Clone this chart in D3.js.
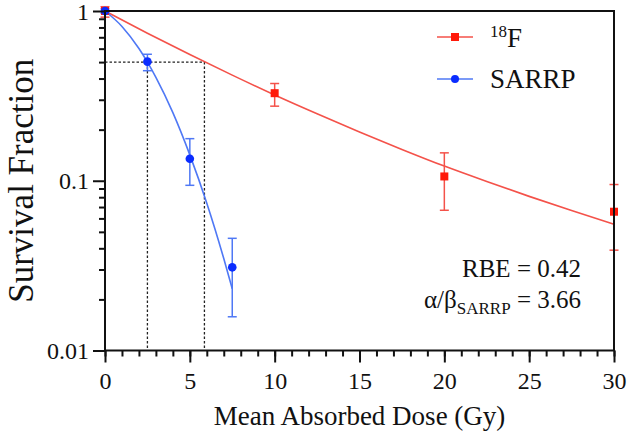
<!DOCTYPE html>
<html><head><meta charset="utf-8">
<script src="https://cdn.jsdelivr.net/npm/d3@7"></script>
<style>
html,body{margin:0;padding:0;background:#fff;}
text{font-family:"Liberation Serif","Times New Roman","DejaVu Serif",serif;fill:#111;}
</style></head>
<body><svg id="c" width="629" height="434"></svg>
<script>
// ---- data ----
const f18Dose = [0, 10, 20, 30];
const f18Surv = [1, 0.328, 0.106, 0.0657];
const f18Lo   = [0.92, 0.275, 0.067, 0.039];
const f18Hi   = [1.06, 0.374, 0.146, 0.095];

const sarrpDose = [0, 2.5, 5, 7.5];
const sarrpSurv = [1, 0.503, 0.1347, 0.0309];
const sarrpLo   = [0.97, 0.445, 0.094, 0.0158];
const sarrpHi   = [1.03, 0.556, 0.177, 0.0458];

// fitted curves
const f18FitDose = [0, 2.5, 5, 7.5, 10, 12.5, 15, 17.5, 20, 22.5, 25, 27.5, 30];
const f18FitSurv = [1, 0.740, 0.554, 0.419, 0.32, 0.248, 0.194, 0.153, 0.122, 0.099, 0.0809, 0.0668, 0.0555];
const sarrpFitDose = [0, 1, 2, 2.5, 3, 4, 5, 6, 7, 7.5];
const sarrpFitSurv = [1, 0.811, 0.601, 0.5, 0.407, 0.252, 0.142, 0.0737, 0.0348, 0.0231];

const halfSurv = 0.5;
const d50Sarrp = 2.5;
const d50F18 = 5.86;

const xMajor = [0, 5, 10, 15, 20, 25, 30];
const xMinor = d3.range(0, 31, 1);
const yMajor = [1, 0.1, 0.01];
const yMajorLabels = ["1", "0.1", "0.01"];
const yMinor = [0.02,0.03,0.04,0.05,0.06,0.07,0.08,0.09,0.2,0.3,0.4,0.5,0.6,0.7,0.8,0.9];

const legendLabels = ["18F", "SARRP"];
const rbeText = "RBE = 0.42";
const abValue = "3.66";

// ---- drawing ----
const svg = d3.select("#c");
const x = d3.scaleLinear().domain([0, 30]).range([105, 614]);
const y = d3.scaleLog().domain([0.01, 1]).range([350.5, 11]);

const red = "#ff1a0a", redLine = "#f4524a";
const blue = "#0a2cff", blueLine = "#4f78f5";

// dashed guides
const g0 = svg.append("g").attr("stroke", "#222").attr("stroke-width", 1.3).attr("stroke-dasharray", "2.5,2");
g0.append("line").attr("x1", x(0)).attr("x2", x(d50F18)).attr("y1", y(halfSurv)).attr("y2", y(halfSurv));
g0.append("line").attr("x1", x(d50Sarrp)).attr("x2", x(d50Sarrp)).attr("y1", y(halfSurv)).attr("y2", y(0.01));
g0.append("line").attr("x1", x(d50F18)).attr("x2", x(d50F18)).attr("y1", y(halfSurv)).attr("y2", y(0.01));

// fit curves
const line = d3.line().x(d => x(d[0])).y(d => y(d[1])).curve(d3.curveMonotoneX);
svg.append("path").datum(f18FitDose.map((d,i)=>[d, f18FitSurv[i]]))
  .attr("d", line).attr("fill","none").attr("stroke", redLine).attr("stroke-width", 1.6);
svg.append("path").datum(sarrpFitDose.map((d,i)=>[d, sarrpFitSurv[i]]))
  .attr("d", line).attr("fill","none").attr("stroke", blueLine).attr("stroke-width", 1.6);

// error bars
function errBars(dose, lo, hi, col) {
  const g = svg.append("g").attr("stroke", col).attr("stroke-width", 1.5);
  dose.forEach((d, i) => {
    g.append("line").attr("x1", x(d)).attr("x2", x(d)).attr("y1", y(lo[i])).attr("y2", y(hi[i]));
    g.append("line").attr("x1", x(d)-4.5).attr("x2", x(d)+4.5).attr("y1", y(lo[i])).attr("y2", y(lo[i]));
    g.append("line").attr("x1", x(d)-4.5).attr("x2", x(d)+4.5).attr("y1", y(hi[i])).attr("y2", y(hi[i]));
  });
}
errBars(f18Dose, f18Lo, f18Hi, redLine);
errBars(sarrpDose, sarrpLo, sarrpHi, blueLine);

// markers
svg.append("g").selectAll("rect").data(f18Dose).join("rect")
  .attr("x", (d)=>x(d)-4).attr("y", (d,i)=>y(f18Surv[i])-4).attr("width", 8).attr("height", 8).attr("fill", red);
svg.append("g").selectAll("circle").data(sarrpDose).join("circle")
  .attr("cx", d=>x(d)).attr("cy", (d,i)=>y(sarrpSurv[i])).attr("r", 4.3).attr("fill", blue);

// axes
const axCol = "#111";
function styleAxis(g) {
  g.attr("font-family", null);
  g.select(".domain").remove();
  g.selectAll("line").attr("stroke", axCol).attr("stroke-width", 2);
  g.selectAll("text").style("font-size", "24px").attr("fill", "#111");
}
const xa = svg.append("g").attr("transform", `translate(0,${y(0.01)})`)
  .call(d3.axisBottom(x).tickValues(xMinor).tickSize(6).tickFormat(""));
styleAxis(xa);
const xb = svg.append("g").attr("transform", `translate(0,${y(0.01)})`)
  .call(d3.axisBottom(x).tickValues(xMajor).tickSize(12).tickPadding(9.5).tickFormat(d3.format("d")));
styleAxis(xb);
const ya = svg.append("g").attr("transform", `translate(${x(0)},0)`)
  .call(d3.axisLeft(y).tickValues(yMinor).tickSize(6).tickFormat(""));
styleAxis(ya);
const yb = svg.append("g").attr("transform", `translate(${x(0)},0)`)
  .call(d3.axisLeft(y).tickValues(yMajor).tickSize(12).tickPadding(4).tickFormat((d,i)=>yMajorLabels[i]));
styleAxis(yb);
yb.selectAll("text").filter((d,i)=>i===0).attr("dy", "0.36em");

// frame
const fr = svg.append("g").attr("stroke", axCol).attr("stroke-width", 2).attr("fill","none");
fr.append("path").attr("d", `M${x(0)},${y(0.01)}V${y(1)}H${x(30)}V${y(0.01)}H${x(0)}`);

// titles
svg.append("text").attr("x", (x(0)+x(30))/2).attr("y", 425).attr("text-anchor","middle")
  .style("font-size","27px").text("Mean Absorbed Dose (Gy)");
svg.append("text").attr("transform", `translate(33,${(y(1)+y(0.01))/2}) rotate(-90)`).attr("text-anchor","middle")
  .style("font-size","35px").text("Survival Fraction");

// legend
const lg = svg.append("g");
lg.append("line").attr("x1",437).attr("x2",473).attr("y1",37).attr("y2",37).attr("stroke",redLine).attr("stroke-width",1.6);
lg.append("rect").attr("x",451).attr("y",33).attr("width",8).attr("height",8).attr("fill",red);
lg.append("line").attr("x1",437).attr("x2",473).attr("y1",79).attr("y2",79).attr("stroke",blueLine).attr("stroke-width",1.6);
lg.append("circle").attr("cx",455).attr("cy",79).attr("r",4).attr("fill",blue);
const t1 = lg.append("text").attr("x",490).attr("y",47).style("font-size","27px");
t1.append("tspan").attr("dy",-10).style("font-size","17px").text(legendLabels[0].slice(0,2));
t1.append("tspan").attr("dy",10).text(legendLabels[0].slice(2));
lg.append("text").attr("x",490).attr("y",88).style("font-size","27px").text(legendLabels[1]);

// annotations
svg.append("text").attr("x",581).attr("y",277).attr("text-anchor","end").style("font-size","25px").text(rbeText);
const t2 = svg.append("text").attr("x",581).attr("y",308).attr("text-anchor","end").style("font-size","25px");
t2.append("tspan").text("α/β");
t2.append("tspan").attr("dy",6).style("font-size","17px").text("SARRP");
t2.append("tspan").attr("dy",-6).text(" = " + abValue);
</script></body></html>
